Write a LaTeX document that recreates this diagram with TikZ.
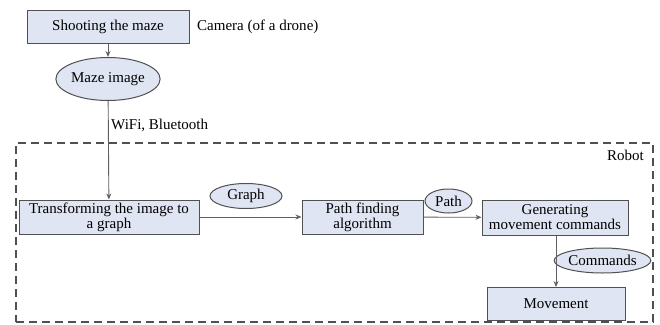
\documentclass[tikz,border=0pt]{standalone}
\usepackage{fontspec}
\setmainfont{Liberation Serif}
\newfontfamily\labelfont{Liberation Serif}
\usetikzlibrary{arrows.meta,shapes.geometric}
\definecolor{boxfill}{HTML}{DFE5F2}
\definecolor{edge}{HTML}{505050}
\tikzset{
  txt/.style={font=\labelfont\fontsize{15}{15}\selectfont},
  stage/.style={txt, draw=edge, line width=1pt, fill=boxfill, inner sep=0pt, align=center},
  datum/.style={txt, draw=edge, line width=1pt, fill=boxfill, ellipse, inner sep=0pt},
  caption/.style={txt, inner sep=0pt},
  flow/.style={draw=edge!90, line width=0.9pt, -{Stealth[length=6pt,width=5pt]}},
}
\begin{document}
\begin{tikzpicture}[x=1pt,y=-1pt]
  \useasboundingbox (0,0) rectangle (660,324);
  % robot boundary
  \node[draw=edge, dashed, dash pattern=on 8pt off 5pt, line width=1.1pt,
        minimum width=637pt, minimum height=179pt, inner sep=0pt] (robot) at (334.5,232.5) {};
  \node[caption, anchor=north east] (robotlbl) at (644,150) {Robot};

  % stages
  \node[stage, minimum width=162pt, minimum height=33pt] (shoot) at (108,27) {Shooting the maze};
  \node[caption, anchor=west] (camera) at (197,27) {Camera (of a drone)};
  \node[datum, minimum width=103pt, minimum height=43pt] (img) at (108,79) {Maze image};
  \node[caption, anchor=west] (wifi) at (111,125) {WiFi, Bluetooth};

  \node[stage, minimum width=180pt, minimum height=34pt] (trans) at (109,217)
       {Transforming the image to\\a graph};
  \node[stage, minimum width=121pt, minimum height=34pt] (pathf) at (362.5,217)
       {Path finding\\algorithm};
  \node[stage, minimum width=146pt, minimum height=35pt] (gen) at (555,217.5)
       {Generating\\movement commands};
  \node[stage, minimum width=138pt, minimum height=33pt] (move) at (556,304)
       {Movement};

  % data passed along
  \node[datum, minimum width=72pt, minimum height=25pt] (graph) at (246,196) {Graph};
  \node[datum, minimum width=47pt, minimum height=24pt] (path) at (448.5,201) {Path};
  \node[datum, minimum width=95pt, minimum height=25pt] (cmds) at (602.5,260.5) {Commands};

  % connectors
  \draw[flow] (shoot) -- (img);
  \draw[flow] (img) -- (trans);
  \draw[flow] (trans) -- (pathf);
  \draw[flow] (pathf) -- (gen);
  \draw[flow] (gen.south -| move.north) -- (move.north);
\end{tikzpicture}
\end{document}
